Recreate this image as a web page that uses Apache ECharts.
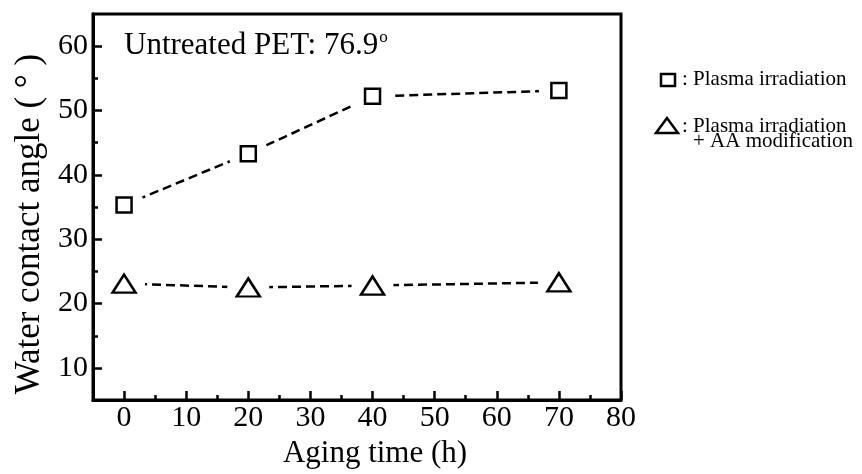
<!DOCTYPE html>
<html>
<head>
<meta charset="utf-8">
<script src="https://cdn.jsdelivr.net/npm/echarts@6/dist/echarts.min.js"></script>
<style>html,body{margin:0;padding:0;background:#fff}#c{width:862px;height:474px}</style>
</head>
<body>
<div id="c"></div>
<script>
const agingTime = [0, 20, 40, 70];
const plasmaIrradiation = [35.3, 43.3, 52.2, 53.1];
const plasmaAA = [23.1, 22.5, 22.8, 23.3];
const xMajorTicks = [0, 10, 20, 30, 40, 50, 60, 70, 80];
const xMinorTicks = [5, 15, 25, 35, 45, 55, 65, 75];
const yMajorTicks = [10, 20, 30, 40, 50, 60];
const yMinorTicks = [15, 25, 35, 45, 55];

const FF = '"Liberation Serif", "Times New Roman", serif';
const pairs = (xs, ys) => xs.map((x, i) => [x, ys[i]]);

const chart = echarts.init(document.getElementById('c'), null, {renderer: 'canvas'});

const baseX = {type: 'value', min: -5, max: 80, position: 'bottom', splitLine: {show: false}};
const baseY = {type: 'value', min: 5, max: 65, position: 'left', splitLine: {show: false}};

chart.setOption({
  animation: false,
  backgroundColor: '#fff',
  title: {
    text: '{a|Untreated PET: 76.9}{b|o}',
    left: 119, top: 24,
    textStyle: {
      rich: {
        a: {fontFamily: FF, fontSize: 31, fontWeight: 'normal', color: '#000'},
        b: {fontFamily: FF, fontSize: 17, fontWeight: 'normal', color: '#000', verticalAlign: 'bottom', padding: [0, 0, 17, 1]}
      }
    }
  },
  grid: {left: 93, right: 241, top: 14, bottom: 73, containLabel: false, show: true, borderColor: '#000', borderWidth: 3, backgroundColor: 'transparent'},
  xAxis: [
    Object.assign({}, baseX, {
      axisLine: {onZero: false, lineStyle: {color: '#000', width: 3}},
      axisTick: {inside: true, length: 9, customValues: xMajorTicks, lineStyle: {color: '#000', width: 2.5}},
      axisLabel: {customValues: xMajorTicks, fontFamily: FF, fontSize: 30, color: '#000', margin: 3},
      name: 'Aging time (h)', nameLocation: 'middle', nameGap: 36,
      nameTextStyle: {fontFamily: FF, fontSize: 31, color: '#000', padding: [0, 0, 0, 36]}
    }),
    Object.assign({}, baseX, {
      axisLine: {show: false, onZero: false},
      axisTick: {inside: true, length: 5, customValues: xMinorTicks, lineStyle: {color: '#000', width: 2.5}},
      axisLabel: {show: false}
    })
  ],
  yAxis: [
    Object.assign({}, baseY, {
      axisLine: {onZero: false, lineStyle: {color: '#000', width: 3}},
      axisTick: {inside: true, length: 9, customValues: yMajorTicks, lineStyle: {color: '#000', width: 2.5}},
      axisLabel: {customValues: yMajorTicks, fontFamily: FF, fontSize: 30, color: '#000', margin: 5},
      name: 'Water contact angle ( ° )', nameLocation: 'middle', nameGap: 45, nameRotate: 90,
      nameTextStyle: {fontFamily: FF, fontSize: 35, color: '#000', padding: [0, 34, 0, 0]}
    }),
    Object.assign({}, baseY, {
      axisLine: {show: false, onZero: false},
      axisTick: {inside: true, length: 5, customValues: yMinorTicks, lineStyle: {color: '#000', width: 2.5}},
      axisLabel: {show: false}
    })
  ],
  series: [
    {type: 'line', name: 'Plasma irradiation line', data: pairs(agingTime, plasmaIrradiation), symbol: 'none', z: 2,
     lineStyle: {color: '#000', width: 2.5, type: [9, 5]}},
    {type: 'line', name: 'Plasma irradiation + AA modification line', data: pairs(agingTime, plasmaAA), symbol: 'none', z: 2,
     lineStyle: {color: '#000', width: 2.5, type: [9, 5]}},
    {type: 'scatter', name: 'mask1', data: pairs(agingTime, plasmaIrradiation), symbol: 'circle', symbolSize: 40, z: 3,
     itemStyle: {color: '#fff', opacity: 1}, silent: true},
    {type: 'scatter', name: 'mask2', data: pairs(agingTime, plasmaAA), symbol: 'circle', symbolSize: 42, z: 3,
     itemStyle: {color: '#fff', opacity: 1}, silent: true},
    {type: 'scatter', name: 'Plasma irradiation', data: pairs(agingTime, plasmaIrradiation), symbol: 'rect', symbolSize: 15, z: 4,
     itemStyle: {color: '#fff', borderColor: '#000', borderWidth: 2.5, opacity: 1}},
    {type: 'scatter', name: 'Plasma irradiation + AA modification', data: pairs(agingTime, plasmaAA), symbol: 'triangle', symbolSize: [23, 18], z: 4,
     itemStyle: {color: '#fff', borderColor: '#000', borderWidth: 2.5, opacity: 1}}
  ],
  graphic: [
    {type: 'rect', shape: {x: 661, y: 74, width: 14, height: 12}, style: {fill: '#fff', stroke: '#000', lineWidth: 2.5}},
    {type: 'text', x: 682, y: 79, style: {text: ': Plasma irradiation', font: '21px ' + FF, fill: '#000', verticalAlign: 'middle'}},
    {type: 'polygon', shape: {points: [[667, 118], [656, 133], [678, 133]]}, style: {fill: '#fff', stroke: '#000', lineWidth: 2.5}},
    {type: 'text', x: 682, y: 126, style: {text: ': Plasma irradiation', font: '21px ' + FF, fill: '#000', verticalAlign: 'middle'}},
    {type: 'text', x: 693, y: 141, style: {text: '+ AA modification', font: '21px ' + FF, fill: '#000', verticalAlign: 'middle'}}
  ]
});
</script>
</body>
</html>
